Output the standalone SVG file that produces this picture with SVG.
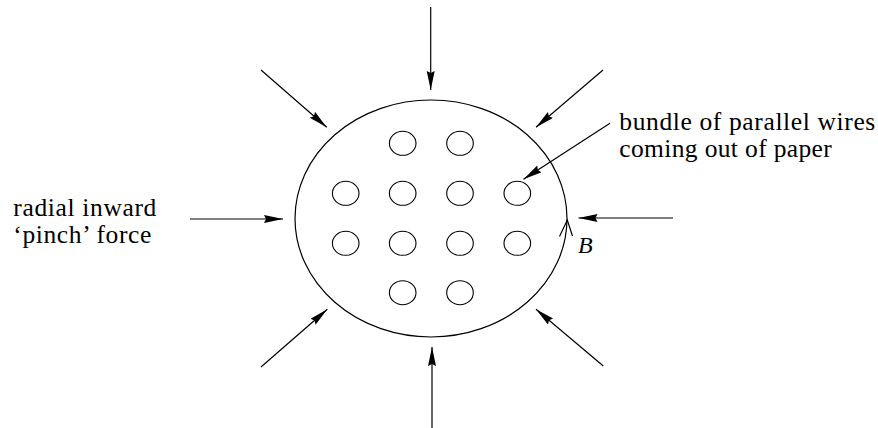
<svg xmlns="http://www.w3.org/2000/svg" width="878" height="428" viewBox="0 0 878 428">
<style>
  .ln { stroke: #000; stroke-width: 1.2; fill: none; }
  .arr { stroke: #000; stroke-width: 1.2; fill: none; marker-end: url(#ah); }
  .wire { stroke: #000; stroke-width: 1.1; fill: none; }
  .txt { font-family: "Liberation Serif", "Times New Roman", serif; font-size: 25.5px; fill: #000; }
  .it { font-style: italic; }
</style>
<defs>
  <marker id="ah" markerUnits="userSpaceOnUse" markerWidth="20" markerHeight="10" refX="19" refY="4" orient="auto">
    <path d="M0,0 L19,4 L0,8 L2,4 z" fill="#000"/>
  </marker>
</defs>
<rect width="878" height="428" fill="#fff"/>

<g id="bundle">
  <ellipse class="ln" cx="431" cy="218.5" rx="136" ry="118.5"/>
  <path class="ln" d="M559.5,236.5 L567.3,220 L572.5,236"/>
</g>

<g id="wires">
  <ellipse class="wire" cx="402.7" cy="143.3" rx="13.3" ry="12"/>
  <ellipse class="wire" cx="460" cy="143.3" rx="13.3" ry="12"/>
  <ellipse class="wire" cx="345.7" cy="193.3" rx="13.3" ry="12"/>
  <ellipse class="wire" cx="402.7" cy="193.3" rx="13.3" ry="12"/>
  <ellipse class="wire" cx="460" cy="193.3" rx="13.3" ry="12"/>
  <ellipse class="wire" cx="517.3" cy="193.3" rx="13.3" ry="12"/>
  <ellipse class="wire" cx="345.7" cy="243.3" rx="13.3" ry="12"/>
  <ellipse class="wire" cx="402.7" cy="243.3" rx="13.3" ry="12"/>
  <ellipse class="wire" cx="460" cy="243.3" rx="13.3" ry="12"/>
  <ellipse class="wire" cx="517.3" cy="243.3" rx="13.3" ry="12"/>
  <ellipse class="wire" cx="402.7" cy="292.7" rx="13.3" ry="12"/>
  <ellipse class="wire" cx="460" cy="292.7" rx="13.3" ry="12"/>
</g>

<g id="connectors">
  <line class="arr" x1="430.7" y1="7" x2="430.7" y2="90"/>
  <line class="arr" x1="432" y1="428" x2="432" y2="347"/>
  <line class="arr" x1="190" y1="219" x2="283" y2="219"/>
  <line class="arr" x1="673" y1="218" x2="578.5" y2="218"/>
  <line class="arr" x1="261" y1="70" x2="326.7" y2="127.3"/>
  <line class="arr" x1="603" y1="70" x2="536" y2="127.3"/>
  <line class="arr" x1="261" y1="367" x2="327.3" y2="309.3"/>
  <line class="arr" x1="603.3" y1="366" x2="536" y2="309.3"/>
  <line class="arr" x1="610" y1="123.3" x2="523.5" y2="179.3"/>
</g>

<g id="label-pinch">
  <text class="txt" x="13.3" y="216" textLength="143" lengthAdjust="spacing">radial inward</text>
  <text class="txt" x="13.3" y="243" textLength="138" lengthAdjust="spacing">‘pinch’ force</text>
</g>

<g id="label-wires">
  <text class="txt" x="619.3" y="130" textLength="256" lengthAdjust="spacing">bundle of parallel wires</text>
  <text class="txt" x="619.3" y="157.3" textLength="212.5" lengthAdjust="spacing">coming out of paper</text>
</g>

<g id="label-B">
  <text class="txt it" x="578" y="253.3" style="font-size:24px">B</text>
</g>
</svg>
